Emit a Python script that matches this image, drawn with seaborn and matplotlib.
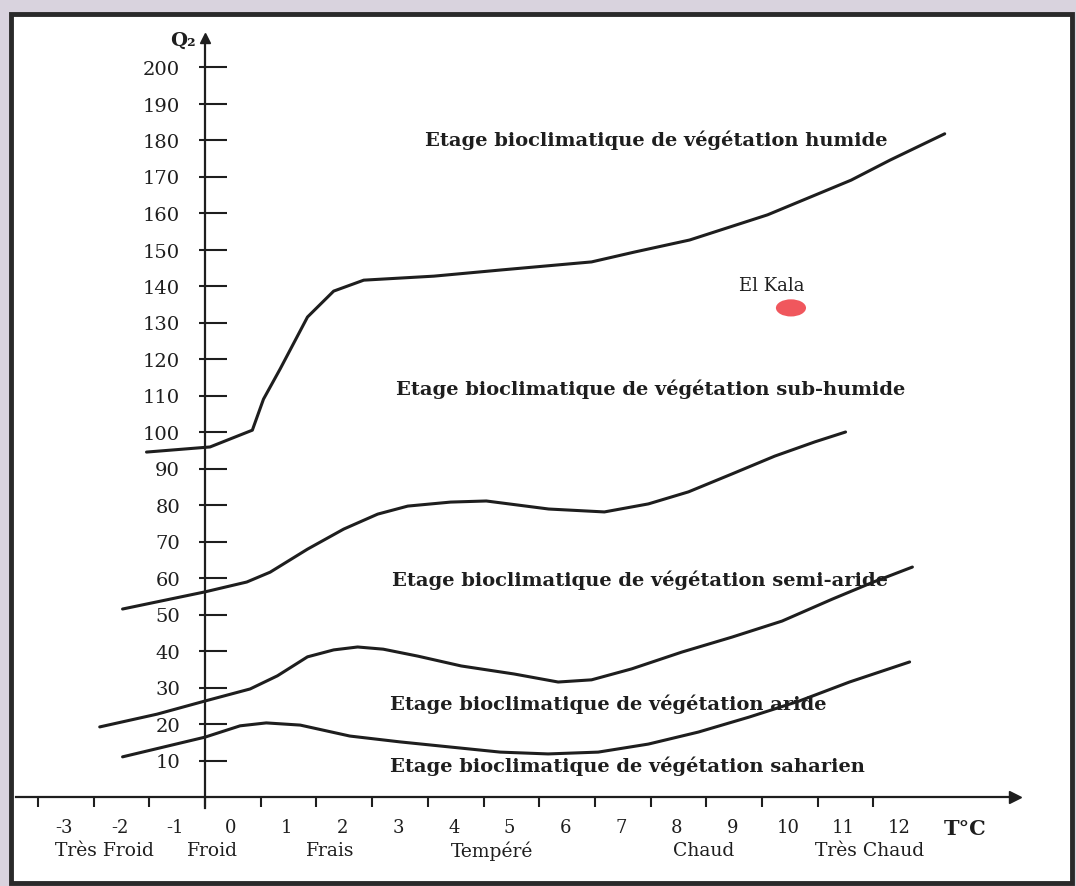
import numpy as np
import pandas as pd
import matplotlib.pyplot as plt
import matplotlib.transforms as mtransforms
from matplotlib.patches import Rectangle
from matplotlib.path import Path
import seaborn as sns

# --- data (T in degC, Q2 quotient) ---
humide_T = [-1.05, 0.09, 0.85, 1.05, 1.35, 1.84, 2.31, 2.85, 4.11, 5.32, 6.94, 7.71, 8.7, 10.1, 11.6, 12.3, 13.28]
humide_Q = [94.5, 95.9, 100.5, 109, 117.3, 131.5, 138.6, 141.6, 142.7, 144.4, 146.6, 149.3, 152.6, 159.5, 169, 174.5, 181.7]

subhumide_T = [-1.48, 0, 0.75, 1.17, 1.84, 2.49, 3.1, 3.64, 4.41, 5.05, 6.17, 7.17, 7.96, 8.68, 9.46, 10.23, 10.95, 11.5]
subhumide_Q = [51.5, 56.2, 58.9, 61.6, 67.9, 73.4, 77.5, 79.7, 80.8, 81.1, 78.9, 78.1, 80.3, 83.6, 88.5, 93.4, 97.3, 100]

semiaride_T = [-1.89, -0.86, 0, 0.81, 1.3, 1.84, 2.31, 2.74, 3.2, 3.82, 4.6, 5.55, 6.34, 6.94, 7.66, 8.56, 9.46, 10.36, 11.26, 12.0, 12.7]
semiaride_Q = [19.2, 22.7, 26.3, 29.6, 33.2, 38.4, 40.3, 41.1, 40.5, 38.6, 35.9, 33.7, 31.5, 32.1, 35.1, 39.7, 43.8, 48.2, 54.2, 58.9, 63]

aride_T = [-1.48, 0, 0.63, 1.1, 1.71, 2.6, 3.5, 4.4, 5.3, 6.16, 7.06, 7.96, 8.86, 9.77, 10.67, 11.57, 12.65]
aride_Q = [11, 16.4, 19.5, 20.3, 19.7, 16.7, 15.1, 13.7, 12.3, 11.8, 12.3, 14.5, 17.8, 21.9, 26.3, 31.5, 37]

zone_labels = [
    "Etage bioclimatique de végétation humide",
    "Etage bioclimatique de végétation sub-humide",
    "Etage bioclimatique de végétation semi-aride",
    "Etage bioclimatique de végétation aride",
    "Etage bioclimatique de végétation saharien",
]
zone_T = [3.95, 3.43, 3.36, 3.32, 3.32]
zone_Q = [180.3, 112, 59.7, 25.8, 8.8]

station_names = ["El Kala"]
station_T = [10.52]
station_Q = [134]

t_ticks = list(range(-3, 13))
q_ticks = list(range(10, 201, 10))
t_classes = ["Très Froid", "Froid", "Frais", "Tempéré", "Chaud", "Très Chaud"]
t_class_pos = [-1.8, 0.14, 2.24, 5.15, 8.96, 11.94]

# --- layout (pixel anchors of the scan) ---
W, H = 1076, 887
X0_PX, PX_PER_T = 205, 55.7
Y0_PX, PX_PER_Q = 798, 3.65
XLIM = (-3.4, 14.8)
YLIM = (-22, 212)
INK = "#1e1e1e"

sns.set_theme(style="white")
plt.rcParams["font.family"] = ["DejaVu Serif", "DejaVu Sans"]

fig = plt.figure(figsize=(W / 100, H / 100), dpi=100, facecolor="#d9d3de")
fig.add_artist(Rectangle((11 / W, (H - 884) / H), (1072 - 11) / W, (884 - 15) / H,
                         transform=fig.transFigure, facecolor="white",
                         edgecolor="#2a2a2a", lw=3.5, zorder=0))

left = (X0_PX + XLIM[0] * PX_PER_T) / W
right = (X0_PX + XLIM[1] * PX_PER_T) / W
bottom = (H - (Y0_PX - YLIM[0] * PX_PER_Q)) / H
top = (H - (Y0_PX - YLIM[1] * PX_PER_Q)) / H
ax = fig.add_axes([left, bottom, right - left, top - bottom])
ax.patch.set_visible(False)
ax.set_xlim(*XLIM)
ax.set_ylim(*YLIM)

# boundary curves
frames = []
for name, t, q in [("humide", humide_T, humide_Q), ("subhumide", subhumide_T, subhumide_Q),
                   ("semiaride", semiaride_T, semiaride_Q), ("aride", aride_T, aride_Q)]:
    frames.append(pd.DataFrame({"T": t, "Q": q, "limite": name}))
df = pd.concat(frames, ignore_index=True)
sns.lineplot(data=df, x="T", y="Q", units="limite", estimator=None, sort=False,
             color=INK, lw=2.2, ax=ax, legend=False)

# axes through the origin
for side in ["top", "right"]:
    ax.spines[side].set_visible(False)
ax.spines["left"].set_position(("data", 0))
ax.spines["bottom"].set_position(("data", 0))
ax.spines["left"].set_bounds(-3, 207)
ax.spines["bottom"].set_bounds(XLIM[0], 14.5)
for side in ["left", "bottom"]:
    ax.spines[side].set_color(INK)
    ax.spines[side].set_linewidth(1.6)
ax.plot(14.55, 0, marker=">", ms=8, color=INK, clip_on=False)
ax.plot(0, 208, marker="^", ms=7, color=INK, clip_on=False)

ax.set_yticks(q_ticks)
ax.set_yticklabels([str(v) for v in q_ticks])
ax.set_yticks(q_ticks, minor=True)
ax.yaxis.remove_overlapping_locs = False
ax.tick_params(axis="y", which="major", direction="in", length=16, width=1.5, left=True,
               color=INK, pad=18, labelsize=14, labelcolor=INK)
ax.tick_params(axis="y", which="minor", direction="out", length=4, width=1.5, left=True, color=INK)

ax.set_xticks(t_ticks)
ax.set_xticklabels([str(v) for v in t_ticks])
ax.tick_params(axis="x", which="major", direction="out", length=7, width=1.5,
               color=INK, pad=8, labelsize=13, labelcolor=INK, bottom=True)
ax.set_xlabel("")
ax.set_ylabel("")
shift = mtransforms.ScaledTranslation(0.26, 0, fig.dpi_scale_trans)
for lbl in ax.get_xticklabels():
    lbl.set_transform(lbl.get_transform() + shift)

# texts
for label, t, q in zip(zone_labels, zone_T, zone_Q):
    ax.text(t, q, label, ha="left", va="center", fontsize=14, fontweight="bold", color=INK)

for label, t in zip(t_classes, t_class_pos):
    ax.text(t, -14.5, label, ha="center", va="center", fontsize=13.5, color=INK)

ax.text(-0.4, 207.5, "Q₂", ha="center", va="center", fontsize=14, fontweight="bold", color=INK)
ax.text(13.64, -8.5, "T°C", ha="center", va="center", fontsize=15, fontweight="bold", color=INK)

# station
ellipse = Path.unit_circle().transformed(mtransforms.Affine2D().scale(1.0, 0.57))
sns.scatterplot(x=station_T, y=station_Q, marker=ellipse, s=470, color="#f0575d",
                edgecolor="none", ax=ax, legend=False, zorder=5)
for name, t, q in zip(station_names, station_T, station_Q):
    ax.text(t - 0.34, q + 6.3, name, ha="center", va="center", fontsize=13, color=INK)

fig.savefig("out.png", dpi=100)
